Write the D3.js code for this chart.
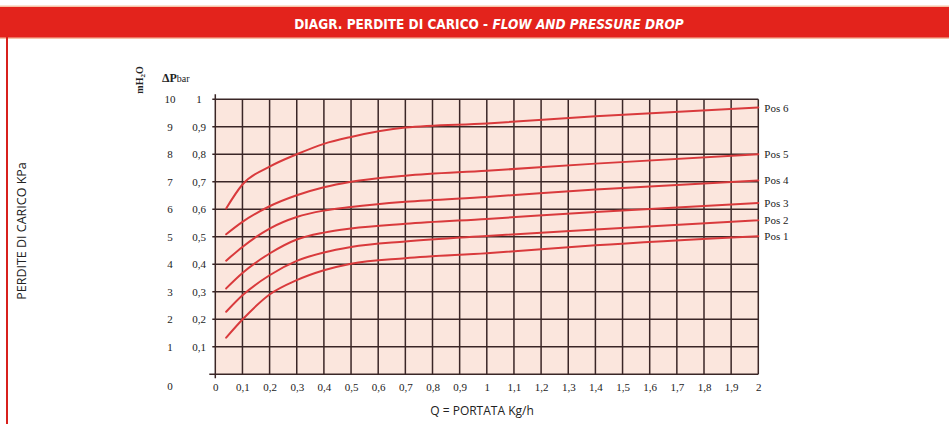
<!DOCTYPE html>
<html><head><meta charset="utf-8">
<script src="https://cdn.jsdelivr.net/npm/d3@7/dist/d3.min.js"></script>
<style>body{margin:0;background:#fff}svg{display:block}</style>
</head><body>
<svg id="c" width="949" height="424"></svg>
<script>
// ---- data ----
const flow = [0.04, 0.1, 0.2, 0.3, 0.4, 0.5, 0.7, 1.0, 1.4, 2.0];
const pos1 = [0.133, 0.199, 0.290, 0.342, 0.378, 0.402, 0.422, 0.440, 0.469, 0.502];
const pos2 = [0.227, 0.287, 0.360, 0.412, 0.443, 0.463, 0.483, 0.503, 0.526, 0.560];
const pos3 = [0.312, 0.368, 0.439, 0.490, 0.515, 0.530, 0.547, 0.565, 0.590, 0.623];
const pos4 = [0.413, 0.463, 0.530, 0.572, 0.595, 0.608, 0.627, 0.645, 0.672, 0.705];
const pos5 = [0.509, 0.554, 0.611, 0.651, 0.680, 0.700, 0.722, 0.740, 0.766, 0.800];
const pos6 = [0.603, 0.690, 0.755, 0.800, 0.838, 0.863, 0.897, 0.912, 0.938, 0.970];
const seriesNames = ["Pos 1", "Pos 2", "Pos 3", "Pos 4", "Pos 5", "Pos 6"];
const xTicks = [0,0.1,0.2,0.3,0.4,0.5,0.6,0.7,0.8,0.9,1,1.1,1.2,1.3,1.4,1.5,1.6,1.7,1.8,1.9,2];
const xTickLabels = ["0","0,1","0,2","0,3","0,4","0,5","0,6","0,7","0,8","0,9","1","1,1","1,2","1,3","1,4","1,5","1,6","1,7","1,8","1,9","2"];
const barTicks = [0.1,0.2,0.3,0.4,0.5,0.6,0.7,0.8,0.9,1];
const barTickLabels = ["0,1","0,2","0,3","0,4","0,5","0,6","0,7","0,8","0,9","1"];
const mh2oTickLabels = ["1","2","3","4","5","6","7","8","9","10"];

const svg = d3.select("#c");
const x = d3.scaleLinear().domain([0, 2]).range([215.3, 758.3]);
const y = d3.scaleLinear().domain([0, 1]).range([374.2, 99.3]);

// title band
svg.append("rect").attr("x",0).attr("y",5.5).attr("width",949).attr("height",33.5).attr("fill","#f6c3a8");
svg.append("rect").attr("x",0).attr("y",7).attr("width",949).attr("height",30.5).attr("fill","#e3231c");
const title = svg.append("text").attr("x",489).attr("y",29).attr("text-anchor","middle")
  .attr("fill","#fff").attr("font-family","'Liberation Sans Narrow','DejaVu Sans Condensed',sans-serif")
  .attr("font-weight","bold").attr("font-size",13.5);
title.append("tspan").text("DIAGR. PERDITE DI CARICO  -  ");
title.append("tspan").attr("font-style","italic").text("FLOW AND PRESSURE DROP");
// left border
svg.append("rect").attr("x",6).attr("y",37).attr("width",2).attr("height",387).attr("fill","#d8201c");

// plot background
svg.append("rect").attr("x",x(0)).attr("y",y(1)).attr("width",x(2)-x(0)).attr("height",y(0)-y(1)).attr("fill","#fbe6dd");

const gridColor = "#3a2626";
// horizontal grid
svg.append("g").selectAll("line").data([0].concat(barTicks)).join("line")
  .attr("x1", d => d === 0 ? x(0) - 6 : x(0) - 3).attr("x2", x(2))
  .attr("y1", d => y(d)).attr("y2", d => y(d))
  .attr("stroke", gridColor).attr("stroke-width", 1.5);
// vertical grid
svg.append("g").selectAll("line").data(xTicks).join("line")
  .attr("x1", d => x(d)).attr("x2", d => x(d))
  .attr("y1", d => d === 0 ? y(1) - 5 : y(1)).attr("y2", d => d === 0 ? y(0) + 4 : y(0))
  .attr("stroke", gridColor).attr("stroke-width", 1.5);

const serif = "'Liberation Serif','DejaVu Serif',serif";
// x axis labels
const xa = svg.append("g").attr("transform", `translate(0,${y(0)})`)
  .call(d3.axisBottom(x).tickValues(xTicks).tickSize(0).tickPadding(9)
    .tickFormat((d, i) => xTickLabels[i]));
xa.select(".domain").remove();
xa.selectAll("text").attr("font-family", serif).attr("font-size", 11).attr("fill", "#222");

// bar axis labels
const ya = svg.append("g").attr("transform", `translate(206,0)`)
  .call(d3.axisLeft(y).tickValues(barTicks).tickSize(0).tickPadding(0)
    .tickFormat((d, i) => barTickLabels[i]));
ya.select(".domain").remove();
ya.selectAll("text").attr("font-family", serif).attr("font-size", 11).attr("fill", "#222").attr("text-anchor","middle").attr("x",-7);

// mH2O labels (left column)
const ym = svg.append("g").attr("transform", `translate(170,0)`)
  .call(d3.axisLeft(y).tickValues(barTicks).tickSize(0).tickPadding(0)
    .tickFormat((d, i) => mh2oTickLabels[i]));
ym.select(".domain").remove();
ym.selectAll("text").attr("font-family", serif).attr("font-size", 11).attr("fill", "#222").attr("text-anchor","middle").attr("x",0);
svg.append("text").attr("x",170).attr("y",y(0)+16).attr("text-anchor","middle")
  .attr("font-family", serif).attr("font-size", 11).attr("fill", "#222").text("0");

// unit labels
const dp = svg.append("text").attr("x",162).attr("y",82).attr("font-family",serif).attr("fill","#222");
dp.append("tspan").attr("font-weight","bold").attr("font-size",12).text("\u0394P");
dp.append("tspan").attr("font-size",10).text("bar");
const mh = svg.append("text").attr("transform","translate(143,80) rotate(-90)").attr("text-anchor","middle")
  .attr("font-family",serif).attr("font-weight","bold").attr("font-size",10).attr("fill","#222");
mh.append("tspan").text("mH");
mh.append("tspan").attr("font-size",7).attr("dy",2).text("2");
mh.append("tspan").attr("dy",-2).text("O");

// axis titles
const sans = "'Open Sans','DejaVu Sans',sans-serif";
svg.append("text").attr("transform","translate(26,231) rotate(-90)").attr("text-anchor","middle")
  .attr("font-family",sans).attr("font-size",12.5).attr("fill","#222").text("PERDITE DI CARICO KPa");
svg.append("text").attr("x",482).attr("y",415).attr("text-anchor","middle")
  .attr("font-family",sans).attr("font-size",12).attr("fill","#222").text("Q = PORTATA Kg/h");

// curves
const allSeries = [pos1, pos2, pos3, pos4, pos5, pos6];
const line = d3.line().x(d => x(d[0])).y(d => y(d[1])).curve(d3.curveMonotoneX);
svg.append("g").selectAll("path").data(allSeries).join("path")
  .attr("d", s => line(flow.map((f, i) => [f, s[i]])))
  .attr("fill","none").attr("stroke","#d93a3c").attr("stroke-width",2).attr("stroke-linecap","round");

// series labels
svg.append("g").selectAll("text").data(allSeries).join("text")
  .attr("x", x(2) + 6).attr("y", s => y(s[s.length-1]) + 4)
  .attr("font-family",serif).attr("font-size",11).attr("fill","#222")
  .text((s, i) => seriesNames[i]);
</script>
</body></html>
